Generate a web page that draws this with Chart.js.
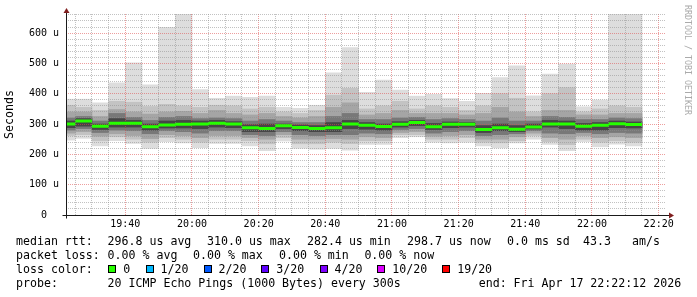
<!DOCTYPE html>
<html><head><meta charset="utf-8">
<script src="https://cdn.jsdelivr.net/npm/chart.js@4.4.1/dist/chart.umd.min.js"></script>
<style>
html,body{margin:0;padding:0;background:#fff;}
#wrap{position:relative;width:697px;height:297px;overflow:hidden;background:#fff;}
#c,#m{position:absolute;left:0;top:0;}
.t{position:absolute;font-family:"DejaVu Sans Mono",monospace;font-size:11.6px;line-height:14px;color:#000;white-space:pre;}
.b{position:absolute;width:6px;height:6px;border:1px solid #000;}
</style></head><body>
<div id="wrap"><canvas id="c" width="697" height="297"></canvas><canvas id="m" width="697" height="297"></canvas><div id="legend"></div></div>
<script>
// ---- data ----
const binStart = ['19:20','19:25','19:30','19:35','19:40','19:45','19:50','19:55',
  '20:00','20:05','20:10','20:15','20:20','20:25','20:30','20:35','20:40','20:45','20:50','20:55',
  '21:00','21:05','21:10','21:15','21:20','21:25','21:30','21:35','21:40','21:45','21:50','21:55',
  '22:00','22:05','22:10'];
const pingMax  = [382,382,370,436,502,429,619,690,414,385,392,388,392,355,352,362,469,552,405,445,412,392,398,384,375,401,453,492,393,465,498,357,379,690,690];
const pingMin  = [247,253,228,245,236,220,242,238,222,236,236,228,212,244,220,217,220,214,233,233,255,258,240,238,240,228,221,238,250,233,212,242,225,234,228];
const band2Hi  = [362,355,345,375,372,358,365,360,355,362,360,350,355,340,335,345,395,418,350,360,375,350,360,355,345,360,400,385,340,400,420,340,350,360,355];
const band2Lo  = [262,265,245,258,250,240,255,250,240,250,250,245,235,255,235,235,240,235,245,245,265,265,250,250,255,240,238,245,262,242,232,250,240,245,240];
const band3Hi  = [340,340,325,348,340,333,340,342,335,345,335,330,335,325,320,325,355,370,330,335,345,335,335,335,330,335,355,340,325,345,345,330,330,335,335];
const band3Lo  = [270,275,260,268,262,252,265,262,255,262,262,255,250,265,250,250,252,250,258,255,272,275,260,262,265,250,250,258,270,255,250,262,255,258,255];
const band4Hi  = [320,325,310,335,322,312,322,325,318,320,318,310,315,310,305,305,325,335,315,315,320,322,315,318,315,310,320,310,310,325,322,315,315,320,318];
const band4Lo  = [280,285,272,280,278,268,278,275,270,278,278,265,262,275,265,262,265,265,270,268,282,285,270,275,278,262,265,268,278,270,268,272,268,272,270];
const band5Hi  = [310,318,300,318,312,300,310,312,310,312,308,298,300,300,297,295,305,312,305,300,308,312,302,307,305,295,300,295,300,312,310,302,305,310,307];
const band5Lo  = [288,293,282,290,290,280,287,287,285,290,288,275,275,285,278,275,275,285,283,280,290,295,282,288,290,272,278,275,284,290,285,280,280,288,287];
const medianRtt = [300,310,293,303,303,291,297,299,300,303,300,288,285,294,289,285,288,300,296,292,299,305,291,299,299,282,288,283,290,300,300,293,296,301,298.7];

const stepMinutes = 5;
const axisStart = '19:22:12';
const axisEnd = '22:22:12';
const yMaxValue = 663;
const lossLabels = ['0','1/20','2/20','3/20','4/20','10/20','19/20'];
const lossColors = ['#26ff00','#00b8ff','#0059ff','#5e00ff','#7e00ff','#dd00ff','#ff0000'];
const medianLine = ['median rtt:','296.8 us avg','310.0 us max','282.4 us min','298.7 us now','0.0 ms sd','43.3','am/s'];
const lossLine = ['packet loss:','0.00 % avg','0.00 % max','0.00 % min','0.00 % now'];
const probeLine = ['probe:','20 ICMP Echo Pings (1000 Bytes) every 300s','end: Fri Apr 17 22:22:12 2026'];

// ---- helpers ----
function toMin(s){ const p = s.split(':').map(Number); return p[0]*60 + p[1] + (p[2]||0)/60; }
function fmt(v){ const h = Math.floor(v/60), m = Math.round(v%60); return String(h).padStart(2,'0')+':'+String(m).padStart(2,'0'); }
const xMin = toMin(axisStart), xMax = toMin(axisEnd);
const centers = binStart.map(s => toMin(s) + stepMinutes/2);

function band(lo, hi, color, order){
  return { type:'bar', order, backgroundColor: color, borderWidth: 0, grouped: false,
    barPercentage: 1, categoryPercentage: 1,
    data: centers.map((c,i) => ({x: c, y: [lo[i], hi[i]]})) };
}
const medianData = [];
binStart.forEach((s,i) => {
  const t0 = toMin(s), t1 = t0 + stepMinutes;
  medianData.push({x:t0, y:medianRtt[i]}, {x:t1, y:medianRtt[i]}, {x:t1, y:null});
});

const MONO = '"DejaVu Sans Mono", monospace';
const majorGrid = 'rgba(222,79,79,0.55)';
const minorGrid = 'rgba(143,143,143,0.55)';
const PAD = { left: 66, top: 14, right: 31, bottom: 82 };

const extras = {
  id: 'rrdExtras',
  afterDraw(chart){
    const {ctx, chartArea:a} = chart;
    const ax = Math.round(a.left) + 0.5, ay = Math.round(a.bottom) + 0.5;
    ctx.save();
    ctx.strokeStyle = '#1a1a1a'; ctx.lineWidth = 1; ctx.setLineDash([]);
    ctx.beginPath();
    ctx.moveTo(ax, ay + 3); ctx.lineTo(ax, a.top - 2);
    ctx.moveTo(ax - 4, ay); ctx.lineTo(a.right + 3, ay);
    ctx.stroke();
    ctx.fillStyle = '#801f1f';
    ctx.beginPath(); ctx.moveTo(ax, a.top - 6); ctx.lineTo(ax - 3, a.top - 1); ctx.lineTo(ax + 3, a.top - 1); ctx.closePath(); ctx.fill();
    ctx.beginPath(); ctx.moveTo(a.right + 8, ay); ctx.lineTo(a.right + 3, ay - 3); ctx.lineTo(a.right + 3, ay + 3); ctx.closePath(); ctx.fill();
    ctx.fillStyle = '#aaaaaa';
    ctx.font = '8.3px ' + MONO;
    ctx.textBaseline = 'alphabetic';
    ctx.translate(684.7, 5); ctx.rotate(Math.PI/2);
    ctx.fillText('RRDTOOL / TOBI OETIKER', 0, 0);
    ctx.restore();
  }
};

// smoke bands, grid and axes
new Chart(document.getElementById('c'), {
  type: 'bar',
  data: { datasets: [
    band(band5Lo, band5Hi, 'rgb(70,70,70)', 2),
    band(band4Lo, band4Hi, 'rgb(120,120,120)', 3),
    band(band3Lo, band3Hi, 'rgb(165,165,165)', 4),
    band(band2Lo, band2Hi, 'rgb(195,195,195)', 5),
    band(pingMin, pingMax, 'rgb(221,221,221)', 6)
  ]},
  options: {
    responsive: false, animation: false, devicePixelRatio: 1,
    layout: { padding: { left: 0, top: PAD.top, right: PAD.right, bottom: 0 } },
    plugins: { legend: { display: false }, tooltip: { enabled: false } },
    scales: {
      x: {
        type: 'linear', min: xMin, max: xMax, offset: false,
        grid: { z: 1, drawTicks: false, offset: false, lineWidth: 1,
          color: c => (c.tick && c.tick.value % 20 === 0) ? majorGrid : minorGrid },
        border: { display: false, dash: [1,1] },
        afterBuildTicks: s => { const t = []; for (let v = Math.ceil(xMin/stepMinutes)*stepMinutes; v < xMax; v += stepMinutes) t.push({value: v}); s.ticks = t; },
        ticks: { autoSkip: false, maxRotation: 0, padding: 3, color: '#000',
          font: { family: MONO, size: 10 },
          callback: v => (v % 20 === 0) ? fmt(v) : '' },
        afterFit: s => { s.height = PAD.bottom; }
      },
      y: {
        min: 0, max: yMaxValue,
        grid: { z: 1, drawTicks: false, lineWidth: 1,
          color: c => (c.tick && c.tick.value % 100 === 0) ? majorGrid : minorGrid },
        border: { display: false, dash: [1,1] },
        afterBuildTicks: s => { const t = []; for (let v = 0; v <= yMaxValue; v += 20) t.push({value: v}); s.ticks = t; },
        ticks: { autoSkip: false, padding: 7, color: '#000',
          font: { family: MONO, size: 10 },
          callback: v => (v % 100 === 0) ? (v === 0 ? '0  ' : v + ' u') : '' },
        title: { display: true, text: 'Seconds', color: '#000',
          font: { family: MONO, size: 11.6 }, padding: { top: 3, bottom: 0 } },
        afterFit: s => { s.width = PAD.left; }
      }
    }
  }
});

// median line on top of the grid (same scales, same plot area)
new Chart(document.getElementById('m'), {
  type: 'line',
  data: { datasets: [
    { data: medianData, borderColor: lossColors[0], borderWidth: 3,
      pointRadius: 0, spanGaps: false, tension: 0, borderCapStyle: 'butt', clip: 0, fill: false }
  ]},
  options: {
    responsive: false, animation: false, devicePixelRatio: 1,
    layout: { padding: PAD },
    plugins: { legend: { display: false }, tooltip: { enabled: false } },
    scales: {
      x: { type: 'linear', min: xMin, max: xMax, display: false },
      y: { min: 0, max: yMaxValue, display: false }
    }
  },
  plugins: [extras]
});

// ---- legend text below the graph ----
const leg = document.getElementById('legend');
function put(x, y, txt){ const d = document.createElement('div'); d.className = 't'; d.style.left = x + 'px'; d.style.top = y + 'px'; d.textContent = txt; leg.appendChild(d); }
const medianX = [16, 107.6, 207, 307, 407, 507, 583, 632];
medianLine.forEach((s,i) => put(medianX[i], 234, s));
const lossX = [16, 107.6, 193, 279, 364.4];
lossLine.forEach((s,i) => put(lossX[i], 248, s));
put(16, 262, 'loss color:');
const boxX = [108.3, 145.5, 203.6, 261.3, 319.6, 377.3, 442.2];
lossLabels.forEach((s,i) => {
  const b = document.createElement('div'); b.className = 'b';
  b.style.left = boxX[i] + 'px'; b.style.top = '265px'; b.style.background = lossColors[i];
  leg.appendChild(b);
  put(boxX[i] + 15, 262, s);
});
const probeX = [16, 107.6, 478.7];
probeLine.forEach((s,i) => put(probeX[i], 276, s));
</script>
</body></html>
